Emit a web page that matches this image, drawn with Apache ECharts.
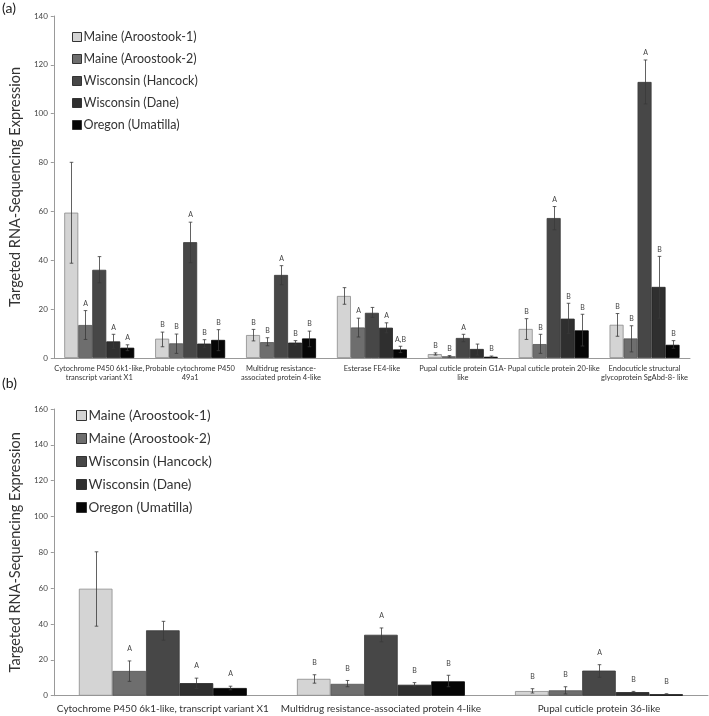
<!DOCTYPE html>
<html>
<head>
<meta charset="utf-8">
<script src="https://cdn.jsdelivr.net/npm/echarts@6/dist/echarts.min.js"></script>
<style>html,body{margin:0;padding:0;background:#fff;}#main{width:709px;height:716px;}</style>
</head>
<body>
<div id="main"></div>
<script>
// ---------- data ----------
const seriesNames = ['Maine (Aroostook-1)', 'Maine (Aroostook-2)', 'Wisconsin (Hancock)', 'Wisconsin (Dane)', 'Oregon (Umatilla)'];

const catsA = [
  'Cytochrome P450 6k1-like,\ntranscript variant X1',
  'Probable cytochrome P450\n49a1',
  'Multidrug resistance-\nassociated protein 4-like',
  'Esterase FE4-like',
  'Pupal cuticle protein G1A-\nlike',
  'Pupal cuticle protein 20-like',
  'Endocuticle structural\nglycoprotein SgAbd-8- like'
];
const aMaine1 = [59.5, 7.9, 9.4, 25.4, 1.6, 11.9, 13.6];
const aMaine1Lo = [38.8, 4.6, 7.0, 22.0, 1.2, 7.6, 8.9];
const aMaine1Hi = [80.1, 10.6, 11.7, 28.8, 2.1, 16.1, 18.2];
const aMaine1Let = ['', 'B', 'B', '', 'B', 'B', 'B'];

const aMaine2 = [13.5, 6.0, 6.5, 12.5, 0.7, 5.7, 8.0];
const aMaine2Lo = [7.6, 1.9, 5.0, 8.6, 0.4, 1.9, 2.5];
const aMaine2Hi = [19.4, 9.8, 8.3, 16.3, 1.0, 9.7, 13.2];
const aMaine2Let = ['A', 'B', 'B', 'A', 'B', 'B', 'B'];

const aHancock = [36.1, 47.4, 34.0, 18.5, 8.2, 57.3, 113.0];
const aHancockLo = [30.8, 39.0, 30.0, 16.6, 6.7, 52.5, 104.0];
const aHancockHi = [41.5, 55.6, 37.8, 20.7, 9.7, 62.0, 122.0];
const aHancockLet = ['', 'A', 'A', '', 'A', 'A', 'A'];

const aDane = [6.8, 5.9, 6.3, 12.4, 3.7, 16.1, 29.1];
const aDaneLo = [4.0, 4.2, 5.3, 10.3, 1.2, 10.1, 16.3];
const aDaneHi = [9.7, 7.5, 7.1, 14.4, 5.7, 22.4, 41.6];
const aDaneLet = ['A', 'B', 'B', 'A', '', 'B', 'B'];

const aOregon = [4.2, 7.4, 8.0, 3.5, 0.5, 11.3, 5.4];
const aOregonLo = [3.0, 3.0, 4.6, 2.2, 0.3, 4.9, 4.0];
const aOregonHi = [5.4, 11.6, 11.0, 4.8, 0.8, 17.9, 7.1];
const aOregonLet = ['A', 'B', 'B', 'A,B', 'B', 'B', 'B'];

const catsB = [
  'Cytochrome P450 6k1-like, transcript variant X1',
  'Multidrug resistance-associated protein 4-like',
  'Pupal cuticle protein 36-like'
];
const bMaine1 = [59.7, 9.4, 2.6];
const bMaine1Lo = [38.8, 7.0, 1.5];
const bMaine1Hi = [80.3, 11.7, 3.9];
const bMaine1Let = ['', 'B', 'B'];

const bMaine2 = [13.8, 6.6, 3.0];
const bMaine2Lo = [8.0, 5.0, 1.0];
const bMaine2Hi = [19.4, 8.5, 5.0];
const bMaine2Let = ['A', 'B', 'B'];

const bHancock = [36.5, 34.0, 14.0];
const bHancockLo = [31.0, 30.1, 10.3];
const bHancockHi = [41.5, 37.8, 17.3];
const bHancockLet = ['', 'A', 'A'];

const bDane = [7.0, 6.1, 2.0];
const bDaneLo = [4.0, 5.0, 1.7];
const bDaneHi = [9.8, 7.3, 2.4];
const bDaneLet = ['A', 'B', 'B'];

const bOregon = [4.3, 8.0, 0.8];
const bOregonLo = [3.3, 5.0, 0.6];
const bOregonHi = [5.3, 11.4, 1.1];
const bOregonLet = ['A', 'B', 'B'];

const yTicksA = {min: 0, max: 140, interval: 20};
const yTicksB = {min: 0, max: 160, interval: 20};

// ---------- styling / build ----------
const colors = ['#d4d4d4', '#6e6e6e', '#474747', '#2f2f2f', '#060606'];
const borders = ['#8a8a8a', '#555555', '#3a3a3a', '#222222', '#000000'];
const GAP = 0.23;
const FONT = 'Lato, "Open Sans", sans-serif';

const setA = [
  [aMaine1, aMaine1Lo, aMaine1Hi, aMaine1Let],
  [aMaine2, aMaine2Lo, aMaine2Hi, aMaine2Let],
  [aHancock, aHancockLo, aHancockHi, aHancockLet],
  [aDane, aDaneLo, aDaneHi, aDaneLet],
  [aOregon, aOregonLo, aOregonHi, aOregonLet]
];
const setB = [
  [bMaine1, bMaine1Lo, bMaine1Hi, bMaine1Let],
  [bMaine2, bMaine2Lo, bMaine2Hi, bMaine2Let],
  [bHancock, bHancockLo, bHancockHi, bHancockLet],
  [bDane, bDaneLo, bDaneHi, bDaneLet],
  [bOregon, bOregonLo, bOregonHi, bOregonLet]
];

function errSeries(gi, si, lo, hi, letters, labelOff) {
  return {
    type: 'custom', xAxisIndex: gi, yAxisIndex: gi, z: 5, silent: true,
    data: lo.map((v, i) => [i, v, hi[i]]),
    encode: {x: 0, y: [1, 2]},
    renderItem: function (params, api) {
      const i = api.value(0);
      const band = api.size([1, 0])[0];
      const groupW = band * (1 - GAP);
      const bw = groupW / 5;
      const pHi = api.coord([i, api.value(2)]);
      const pLo = api.coord([i, api.value(1)]);
      const x = Math.round(pHi[0] - groupW / 2 + (si + 0.5) * bw) + 0.5;
      const cap = 1.8;
      const st = {stroke: '#3a3a3a', lineWidth: 0.8};
      const children = [
        {type: 'line', shape: {x1: x, y1: pHi[1], x2: x, y2: pLo[1]}, style: st},
        {type: 'line', shape: {x1: x - cap, y1: pHi[1], x2: x + cap, y2: pHi[1]}, style: st},
        {type: 'line', shape: {x1: x - cap, y1: pLo[1], x2: x + cap, y2: pLo[1]}, style: st}
      ];
      const t = letters[params.dataIndex];
      if (t) {
        children.push({type: 'text', style: {text: t, x: x, y: pHi[1] - labelOff, align: 'center', verticalAlign: 'middle', fill: '#444', font: '7px ' + FONT}});
      }
      return {type: 'group', children: children};
    }
  };
}

const series = [];
setA.forEach((s, si) => {
  series.push({
    name: seriesNames[si], type: 'bar', xAxisIndex: 0, yAxisIndex: 0,
    data: s[0], barGap: '0%', barCategoryGap: (GAP * 100) + '%',
    itemStyle: {color: colors[si], borderColor: borders[si], borderWidth: 0.8}
  });
});
setB.forEach((s, si) => {
  series.push({
    name: seriesNames[si], type: 'bar', xAxisIndex: 1, yAxisIndex: 1,
    data: s[0], barGap: '0%', barCategoryGap: (GAP * 100) + '%',
    itemStyle: {color: colors[si], borderColor: borders[si], borderWidth: 0.8}
  });
});
setA.forEach((s, si) => series.push(errSeries(0, si, s[1], s[2], s[3], 7)));
setB.forEach((s, si) => series.push(errSeries(1, si, s[1], s[2], s[3], 12)));

const yAxisCommon = {
  type: 'value',
  name: 'Targeted RNA-Sequencing Expression',
  nameLocation: 'middle',
  nameTextStyle: {fontFamily: FONT, fontSize: 14.5, color: '#333'},
  axisLine: {show: true, lineStyle: {color: '#999'}},
  axisTick: {show: true, length: 3, lineStyle: {color: '#999'}},
  splitLine: {show: false},
  axisLabel: {fontFamily: FONT, fontSize: 8, color: '#444', margin: 6}
};

const option = {
  animation: false,
  backgroundColor: '#fff',
  graphic: [
    {type: 'text', left: 2, top: 1, style: {text: '(a)', font: '14px ' + FONT, fill: '#222'}},
    {type: 'text', left: 2, top: 376, style: {text: '(b)', font: '14px ' + FONT, fill: '#222'}}
  ],
  legend: [
    {
      data: seriesNames, orient: 'vertical', left: 67, top: 25.5,
      itemWidth: 9, itemHeight: 9, itemGap: 9, icon: 'rect',
      itemStyle: {borderColor: '#333', borderWidth: 1},
      textStyle: {fontFamily: FONT, fontSize: 12.5, lineHeight: 13, color: '#333', padding: [0, 0, 0, -3]}
    },
    {
      data: seriesNames, orient: 'vertical', left: 71, top: 403,
      itemWidth: 10, itemHeight: 10, itemGap: 8, icon: 'rect',
      itemStyle: {borderColor: '#333', borderWidth: 1},
      textStyle: {fontFamily: FONT, fontSize: 13.5, lineHeight: 15, color: '#333', padding: [0, 0, 0, -3]}
    }
  ],
  grid: [
    {left: 44, right: 19, top: 16, height: 342},
    {left: 46, right: 1, top: 409, height: 286.7}
  ],
  xAxis: [
    {
      type: 'category', gridIndex: 0, data: catsA,
      axisLine: {lineStyle: {color: '#999'}}, axisTick: {show: false},
      axisLabel: {interval: 0, fontFamily: FONT, fontSize: 7.5, lineHeight: 9, color: '#333', margin: 6}
    },
    {
      type: 'category', gridIndex: 1, data: catsB,
      axisLine: {lineStyle: {color: '#999'}}, axisTick: {show: false},
      axisLabel: {interval: 0, fontFamily: FONT, fontSize: 10, color: '#333', margin: 8}
    }
  ],
  yAxis: [
    Object.assign({}, yAxisCommon, {gridIndex: 0, nameGap: 29}, yTicksA),
    Object.assign({}, yAxisCommon, {gridIndex: 1, nameGap: 30}, yTicksB)
  ],
  series: series
};

const chart = echarts.init(document.getElementById('main'), null, {renderer: 'canvas'});
chart.setOption(option);
</script>
</body>
</html>
